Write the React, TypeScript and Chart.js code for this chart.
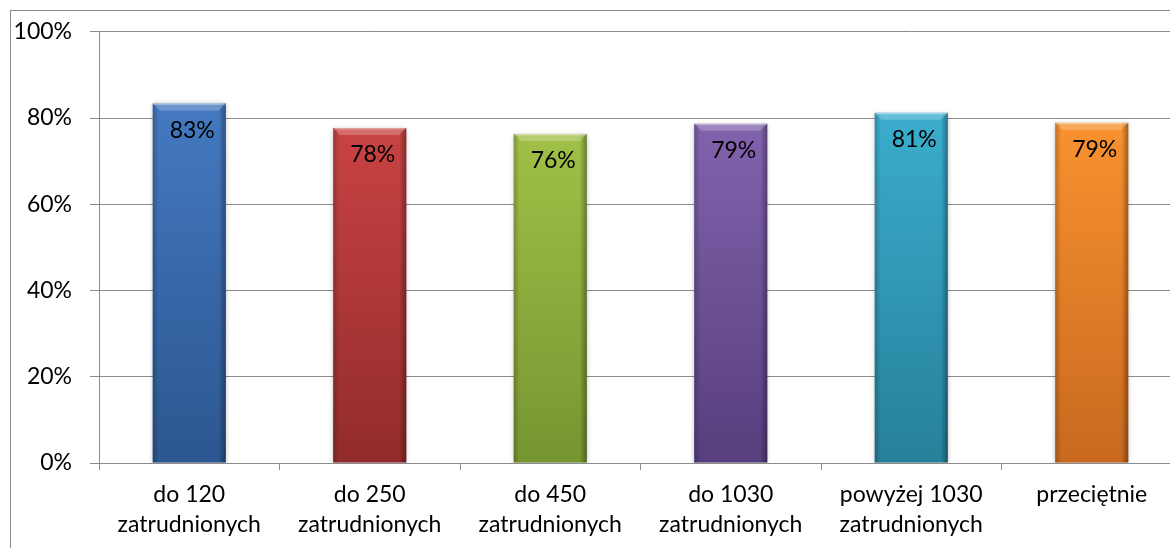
import React, { useEffect, useRef } from "react";
import { Chart, registerables } from "chart.js";

Chart.register(...registerables);

const categories: string[][] = [
  ["do 120", "zatrudnionych"],
  ["do 250", "zatrudnionych"],
  ["do 450", "zatrudnionych"],
  ["do 1030", "zatrudnionych"],
  ["powyżej 1030", "zatrudnionych"],
  ["przeciętnie"],
];
const values: number[] = [83.4, 77.7, 76.3, 78.7, 81.2, 78.9];
const topColors: string[] = ["#4479c0", "#c94343", "#a0c048", "#8163ad", "#3badcd", "#f8912f"];
const bottomColors: string[] = ["#2c5690", "#922b2b", "#779530", "#573e7e", "#26809a", "#c8691f"];
const yTicks: number[] = [0, 20, 40, 60, 80, 100];

const FONT = "Lato, 'Open Sans', sans-serif";
const GRID = "#8c8c8c";

const decorPlugin = {
  id: "decor",
  beforeDatasetsDraw(chart: any) {
    const ctx = chart.ctx;
    ctx.save();
    ctx.shadowColor = "rgba(0,0,0,0.3)";
    ctx.shadowBlur = 5;
    ctx.shadowOffsetX = 0;
    ctx.shadowOffsetY = 1;
  },
  afterDatasetsDraw(chart: any) {
    const ctx = chart.ctx;
    ctx.restore();
    const meta = chart.getDatasetMeta(0);
    meta.data.forEach((bar: any, i: number) => {
      const { x, y, base, width } = bar.getProps(["x", "y", "base", "width"], true);
      const l = x - width / 2;
      const r = x + width / 2;
      ctx.save();
      // left edge shade
      let g = ctx.createLinearGradient(l, 0, l + 6, 0);
      g.addColorStop(0, "rgba(0,0,0,0.22)");
      g.addColorStop(1, "rgba(0,0,0,0)");
      ctx.fillStyle = g;
      ctx.fillRect(l, y, 6, base - y);
      // right edge shade
      g = ctx.createLinearGradient(r - 7, 0, r, 0);
      g.addColorStop(0, "rgba(0,0,0,0)");
      g.addColorStop(1, "rgba(0,0,0,0.35)");
      ctx.fillStyle = g;
      ctx.fillRect(r - 7, y, 7, base - y);
      // top bevel
      ctx.beginPath();
      ctx.moveTo(l, y);
      ctx.lineTo(r, y);
      ctx.lineTo(r - 7, y + 7);
      ctx.lineTo(l + 7, y + 7);
      ctx.closePath();
      ctx.fillStyle = "rgba(255,255,255,0.22)";
      ctx.fill();
      ctx.fillStyle = "rgba(255,255,255,0.35)";
      ctx.fillRect(l + 1, y, width - 2, 1.5);
      ctx.restore();
    });
    ctx.save();
    ctx.font = `23px ${FONT}`;
    ctx.fillStyle = "#000";
    ctx.textAlign = "center";
    ctx.textBaseline = "middle";
    meta.data.forEach((bar: any, i: number) => {
      const { x, y } = bar.getProps(["x", "y"], true);
      ctx.fillText(Math.round(values[i]) + "%", x + 3, y + 27);
    });
    ctx.restore();
  },
};

export default function App() {
  const ref = useRef<HTMLCanvasElement | null>(null);
  useEffect(() => {
    if (!ref.current) return;
    const chart = new Chart(ref.current, {
      type: "bar",
      data: {
        labels: categories,
        datasets: [
          {
            data: values,
            backgroundColor: (c: any) => {
              const i = c.dataIndex ?? 0;
              const chart = c.chart;
              const area = chart.chartArea;
              const ys = chart.scales && chart.scales.y;
              if (!area || !ys) return topColors[i];
              const top = ys.getPixelForValue(values[i]);
              const g = chart.ctx.createLinearGradient(0, top, 0, area.bottom);
              g.addColorStop(0, topColors[i]);
              g.addColorStop(1, bottomColors[i]);
              return g;
            },
            borderWidth: 0,
            categoryPercentage: 1,
            barPercentage: 0.405,
          },
        ],
      },
      options: {
        animation: false,
        responsive: false,
        maintainAspectRatio: false,
        layout: { padding: { top: 31, left: 0, right: 0, bottom: 0 } },
        plugins: { legend: { display: false }, tooltip: { enabled: false } },
        scales: {
          x: {
            offset: true,
            grid: { display: true, drawOnChartArea: false, offset: true, tickLength: 7, color: GRID },
            border: { color: GRID },
            ticks: {
              color: "#000",
              font: { family: FONT, size: 23, lineHeight: 1.3 },
              padding: 10,
              maxRotation: 0,
              autoSkip: false,
            },
            afterFit: (s: any) => {
              s.height = 548 - 463;
            },
          },
          y: {
            min: 0,
            max: 100,
            afterBuildTicks: (s: any) => {
              s.ticks = yTicks.map((v) => ({ value: v }));
            },
            ticks: {
              color: "#000",
              font: { family: FONT, size: 23 },
              padding: 18,
              callback: (v: any) => v + "%",
            },
            grid: { color: GRID, tickLength: 9 },
            border: { color: GRID },
            afterFit: (s: any) => {
              s.width = 99;
            },
          },
        },
      },
      plugins: [decorPlugin],
    });
    return () => chart.destroy();
  }, []);

  return (
    <div
      style={{
        position: "fixed",
        left: 0,
        top: 0,
        width: 1170,
        height: 548,
        overflow: "hidden",
        background: "#fff",
      }}
    >
      <div
        style={{
          position: "absolute",
          left: 10,
          top: 10,
          width: 1200,
          height: 600,
          border: "1px solid #8c8c8c",
          boxSizing: "border-box",
        }}
      />
      <canvas
        ref={ref}
        width={1182}
        height={548}
        style={{ position: "absolute", left: 0, top: 0, width: 1182, height: 548 }}
      />
    </div>
  );
}
